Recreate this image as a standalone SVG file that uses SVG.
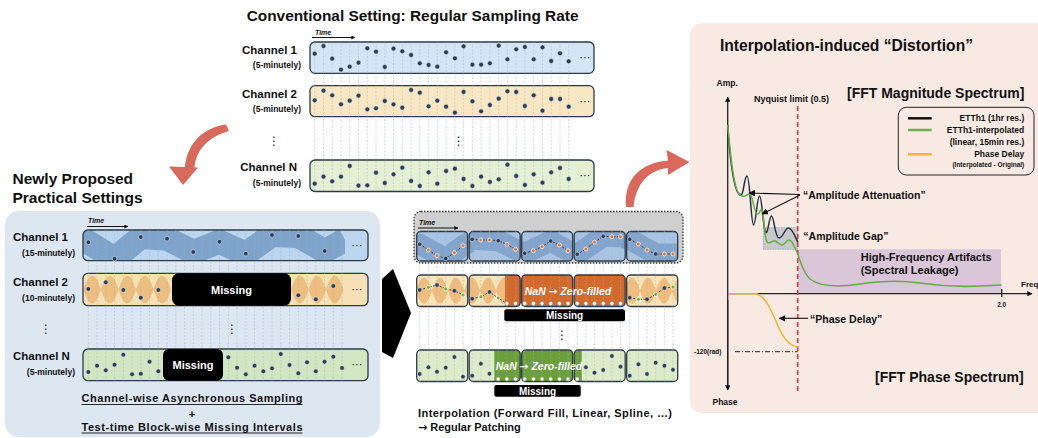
<svg xmlns="http://www.w3.org/2000/svg" width="1038" height="438" viewBox="0 0 1038 438">
<defs>
<style>
.t{font-family:"Liberation Sans",Arial,sans-serif;font-weight:bold;fill:#111}
.it{font-style:italic}
.arr{font-family:"DejaVu Sans",sans-serif}
.grid{fill:none;stroke:#9fb0c1;stroke-width:.6;stroke-dasharray:2 1.5;opacity:.75}
.box{stroke:#2d3a46;stroke-width:1.3}
.d{fill:#2c3e55;stroke:#e6edf5;stroke-width:.5}
.o{fill:#e07b39;stroke:#fff;stroke-width:.7}
.g{fill:#6db547;stroke:#fff;stroke-width:.7}
.nan{fill:#fff;stroke:#8a8a8a;stroke-width:.6}
.dash{fill:none;stroke:#222;stroke-width:.8;stroke-dasharray:2 1.5}
.sym{font-family:"DejaVu Sans",sans-serif;fill:#222}
.miss{fill:#000}
.mt{font-family:"Liberation Sans",Arial,sans-serif;font-weight:bold;fill:#fff;text-anchor:middle}
</style>
<marker id="ah" viewBox="0 0 10 10" refX="9" refY="5" markerWidth="6" markerHeight="6" orient="auto-start-reverse"><path d="M0,0 L10,5 L0,10 Z" fill="#111"/></marker>
<marker id="ahs" viewBox="0 0 10 10" refX="9" refY="5" markerWidth="4" markerHeight="4" orient="auto"><path d="M0,0 L10,5 L0,10 Z" fill="#111"/></marker>
<path id="lensL" d="M0,0 Q8.75,-28 17.5,0 Q8.75,28 0,0Z"/>
<path id="lensM" d="M0,0 Q8,-26 16,0 Q8,26 0,0Z"/>
<clipPath id="cpL1"><rect x="83" y="230" width="285" height="30.7" rx="5"/></clipPath>
<clipPath id="cpL2"><rect x="83" y="273.3" width="285" height="32.4" rx="5"/></clipPath>
<clipPath id="cpMB"><rect x="416.7" y="231.5" width="51" height="29.5" rx="4"/><rect x="469.2" y="231.5" width="51" height="29.5" rx="4"/><rect x="521.7" y="231.5" width="51" height="29.5" rx="4"/><rect x="574.2" y="231.5" width="51" height="29.5" rx="4"/><rect x="626.7" y="231.5" width="51" height="29.5" rx="4"/></clipPath>
<clipPath id="cpMY"><rect x="416.7" y="275" width="51" height="31.5" rx="4"/><rect x="469.2" y="275" width="51" height="31.5" rx="4"/><rect x="521.7" y="275" width="51" height="31.5" rx="4"/><rect x="574.2" y="275" width="51" height="31.5" rx="4"/><rect x="626.7" y="275" width="51" height="31.5" rx="4"/></clipPath>
<clipPath id="cpMG"><rect x="416.7" y="350" width="51" height="31.5" rx="4"/><rect x="469.2" y="350" width="51" height="31.5" rx="4"/><rect x="521.7" y="350" width="51" height="31.5" rx="4"/><rect x="574.2" y="350" width="51" height="31.5" rx="4"/><rect x="626.7" y="350" width="51" height="31.5" rx="4"/></clipPath>
</defs>
<rect width="1038" height="438" fill="#fff"/>

<!-- ===== Top: conventional setting ===== -->
<g id="top-setting">
<text class="t" x="246.7" y="20.5" font-size="15.4">Conventional Setting: Regular Sampling Rate</text>
<text class="t it" x="315" y="35" font-size="7">Time</text>
<line x1="312" y1="37.5" x2="355" y2="37.5" stroke="#111" stroke-width="1" marker-end="url(#ahs)"/>
</g>
<g id="top-ch1">
<text class="t" x="297" y="54" font-size="11.5" text-anchor="end">Channel 1</text>
<text class="t" x="301" y="68" font-size="8.5" text-anchor="end">(5-minutely)</text>
<rect class="box" x="310" y="42" width="284" height="31.3" rx="5" fill="#d3e5f7"/>
</g>
<g id="top-ch2">
<text class="t" x="297" y="98.3" font-size="11.5" text-anchor="end">Channel 2</text>
<text class="t" x="301" y="112.3" font-size="8.5" text-anchor="end">(5-minutely)</text>
<rect class="box" x="310" y="85.7" width="284" height="31" rx="5" fill="#f8e7c2"/>
</g>
<g id="top-chN">
<text class="t" x="297" y="170.7" font-size="11.5" text-anchor="end">Channel N</text>
<text class="t" x="301" y="186.3" font-size="8.5" text-anchor="end">(5-minutely)</text>
<rect class="box" x="310" y="160" width="284" height="31.5" rx="5" fill="#e3f0d3"/>
</g>
<path class="grid" d="M314.7,42V192M323.5,42V192M332.2,42V192M341,42V192M349.7,42V192M358.5,42V192M367.3,42V192M376,42V192M384.8,42V192M393.5,42V192M402.3,42V192M411.1,42V192M419.8,42V192M428.6,42V192M437.3,42V192M446.1,42V192M454.9,42V192M463.6,42V192M472.4,42V192M481.1,42V192M489.9,42V192M498.7,42V192M507.4,42V192M516.2,42V192M524.9,42V192M533.7,42V192M542.5,42V192M551.2,42V192M560,42V192M568.7,42V192"/>
<g id="top-dots">
<g class="d">
<circle cx="314.7" cy="53.7" r="2.4"/><circle cx="323.5" cy="46" r="2.4"/><circle cx="332.2" cy="58.7" r="2.4"/><circle cx="341" cy="69.7" r="2.4"/><circle cx="349.7" cy="66.7" r="2.4"/><circle cx="358.5" cy="62.7" r="2.4"/><circle cx="367.3" cy="48.3" r="2.4"/><circle cx="376" cy="51.7" r="2.4"/><circle cx="384.8" cy="67" r="2.4"/><circle cx="393.5" cy="48.7" r="2.4"/><circle cx="402.3" cy="51.3" r="2.4"/><circle cx="411.1" cy="55" r="2.4"/><circle cx="419.8" cy="63.3" r="2.4"/><circle cx="428.6" cy="65" r="2.4"/><circle cx="437.3" cy="66.7" r="2.4"/><circle cx="446.1" cy="52.3" r="2.4"/><circle cx="454.9" cy="58.3" r="2.4"/><circle cx="463.6" cy="46.3" r="2.4"/><circle cx="472.4" cy="64.7" r="2.4"/><circle cx="481.1" cy="64.7" r="2.4"/><circle cx="489.9" cy="63.3" r="2.4"/><circle cx="498.7" cy="45.7" r="2.4"/><circle cx="507.4" cy="59.3" r="2.4"/><circle cx="516.2" cy="49.3" r="2.4"/><circle cx="524.9" cy="47" r="2.4"/><circle cx="533.7" cy="59.3" r="2.4"/><circle cx="542.5" cy="47.3" r="2.4"/><circle cx="551.2" cy="61" r="2.4"/><circle cx="560" cy="53.3" r="2.4"/><circle cx="568.7" cy="61.3" r="2.4"/>
<circle cx="314.7" cy="100.3" r="2.4"/><circle cx="323.5" cy="90.7" r="2.4"/><circle cx="332.2" cy="95.3" r="2.4"/><circle cx="341" cy="104.3" r="2.4"/><circle cx="349.7" cy="100.7" r="2.4"/><circle cx="358.5" cy="95.7" r="2.4"/><circle cx="367.3" cy="109.3" r="2.4"/><circle cx="376" cy="108.3" r="2.4"/><circle cx="384.8" cy="101" r="2.4"/><circle cx="393.5" cy="104.3" r="2.4"/><circle cx="402.3" cy="107.7" r="2.4"/><circle cx="411.1" cy="90" r="2.4"/><circle cx="419.8" cy="92.7" r="2.4"/><circle cx="428.6" cy="106.3" r="2.4"/><circle cx="437.3" cy="100.7" r="2.4"/><circle cx="446.1" cy="106.7" r="2.4"/><circle cx="454.9" cy="112.7" r="2.4"/><circle cx="463.6" cy="92" r="2.4"/><circle cx="472.4" cy="101.3" r="2.4"/><circle cx="481.1" cy="111.3" r="2.4"/><circle cx="489.9" cy="105" r="2.4"/><circle cx="498.7" cy="98.7" r="2.4"/><circle cx="507.4" cy="91.3" r="2.4"/><circle cx="516.2" cy="92" r="2.4"/><circle cx="524.9" cy="106" r="2.4"/><circle cx="533.7" cy="95.3" r="2.4"/><circle cx="542.5" cy="110.7" r="2.4"/><circle cx="551.2" cy="99" r="2.4"/><circle cx="560" cy="99" r="2.4"/><circle cx="568.7" cy="106.7" r="2.4"/>
<circle cx="314.7" cy="183.7" r="2.4"/><circle cx="323.5" cy="176.7" r="2.4"/><circle cx="332.2" cy="181.3" r="2.4"/><circle cx="341" cy="176.7" r="2.4"/><circle cx="349.7" cy="166" r="2.4"/><circle cx="358.5" cy="185.7" r="2.4"/><circle cx="367.3" cy="185.3" r="2.4"/><circle cx="376" cy="172.7" r="2.4"/><circle cx="384.8" cy="183" r="2.4"/><circle cx="393.5" cy="174.3" r="2.4"/><circle cx="402.3" cy="167.7" r="2.4"/><circle cx="411.1" cy="181" r="2.4"/><circle cx="419.8" cy="186" r="2.4"/><circle cx="428.6" cy="172.3" r="2.4"/><circle cx="437.3" cy="183.7" r="2.4"/><circle cx="446.1" cy="171" r="2.4"/><circle cx="454.9" cy="168.7" r="2.4"/><circle cx="463.6" cy="179" r="2.4"/><circle cx="472.4" cy="186" r="2.4"/><circle cx="481.1" cy="176.7" r="2.4"/><circle cx="489.9" cy="182" r="2.4"/><circle cx="498.7" cy="179.3" r="2.4"/><circle cx="507.4" cy="164.7" r="2.4"/><circle cx="516.2" cy="176" r="2.4"/><circle cx="524.9" cy="185" r="2.4"/><circle cx="533.7" cy="174.3" r="2.4"/><circle cx="542.5" cy="182.7" r="2.4"/><circle cx="551.2" cy="172.3" r="2.4"/><circle cx="560" cy="168" r="2.4"/><circle cx="568.7" cy="179" r="2.4"/>
</g>
<text class="sym" x="585" y="61" font-size="11" text-anchor="middle">⋯</text>
<text class="sym" x="585" y="105" font-size="11" text-anchor="middle">⋯</text>
<text class="sym" x="585" y="179" font-size="11" text-anchor="middle">⋯</text>
<text class="sym" x="274" y="145" font-size="12" text-anchor="middle">⋮</text>
<text class="sym" x="458.7" y="145" font-size="12" text-anchor="middle">⋮</text>
</g>

<!-- ===== Curved salmon arrows ===== -->
<g id="arrows-salmon" fill="#d9695a">
<path d="M226,124.5 C205,127 187,142 185,167 L169,166.5 L183,185 L198,167.5 L194.5,167.5 C196,150 208,137 229,131 Z"/>
<path d="M626,207 C624,179 640,163 668,160.5 L666.5,150 L689.5,162 L668,175 L668,168 C648,170 636,184 633.5,207 Z"/>
</g>

<!-- ===== Left: newly proposed practical settings ===== -->
<g id="left-panel">
<text class="t" x="12.5" y="184" font-size="15.5">Newly Proposed</text>
<text class="t" x="12.5" y="203" font-size="15.5">Practical Settings</text>
<rect x="5" y="211" width="375" height="226" rx="14" fill="#dde7f2"/>
<text class="t it" x="88" y="222.5" font-size="7">Time</text>
<line x1="87" y1="226.5" x2="128" y2="226.5" stroke="#111" stroke-width="1" marker-end="url(#ahs)"/>
</g>
<g id="left-ch1">
<text class="t" x="13" y="241.3" font-size="11.5">Channel 1</text>
<text class="t" x="75" y="255.7" font-size="8.5" text-anchor="end">(15-minutely)</text>
<rect x="83" y="230" width="285" height="30.7" rx="5" fill="#bcd6f0"/>
<polyline clip-path="url(#cpL1)" points="80,242.3 88.3,242.3 114.6,258.7 140.8,237 167,238.7 193.3,252 219.5,241.7 245.8,253.7 272,235 298.3,236 324.6,251 345,240" fill="none" stroke="#6f97c3" stroke-opacity=".8" stroke-width="24" stroke-linejoin="miter" stroke-miterlimit="8"/>
<rect x="345" y="230" width="23" height="30.7" fill="#bcd6f0" clip-path="url(#cpL1)"/>
<rect class="box" x="83" y="230" width="285" height="30.7" rx="5" fill="none"/>
</g>
<g id="left-ch2">
<text class="t" x="13" y="285.7" font-size="11.5">Channel 2</text>
<text class="t" x="75" y="301.3" font-size="8.5" text-anchor="end">(10-minutely)</text>
<rect x="83" y="273.3" width="285" height="32.4" rx="5" fill="#f5e1b5"/>
<g fill="#eaa75f" fill-opacity=".6" clip-path="url(#cpL2)">
<use href="#lensL" x="83.5" y="289.5"/><use href="#lensL" x="101" y="289.5"/><use href="#lensL" x="118.5" y="289.5"/><use href="#lensL" x="136" y="289.5"/><use href="#lensL" x="153.5" y="289.5"/>
<use href="#lensL" x="291" y="289.5"/><use href="#lensL" x="308.5" y="289.5"/><use href="#lensL" x="326" y="289.5"/>
</g>
<rect class="box" x="83" y="273.3" width="285" height="32.4" rx="5" fill="none"/>
</g>
<g id="left-chN">
<text class="t" x="13" y="359.7" font-size="11.5">Channel N</text>
<text class="t" x="75" y="375.3" font-size="8.5" text-anchor="end">(5-minutely)</text>
<rect class="box" x="83" y="349" width="285" height="31.7" rx="5" fill="#d2e6c2"/>
</g>
<path class="grid" d="M88.3,230V381M97.05,230V381M105.8,230V381M114.55,230V381M123.3,230V381M132.05,230V381M140.8,230V381M149.55,230V381M158.3,230V381M167.05,230V381M175.8,230V381M184.55,230V381M193.3,230V381M202.05,230V381M210.8,230V381M219.55,230V381M228.3,230V381M237.05,230V381M245.8,230V381M254.55,230V381M263.3,230V381M272.05,230V381M280.8,230V381M289.55,230V381M298.3,230V381M307.05,230V381M315.8,230V381M324.55,230V381M333.3,230V381M342.05,230V381"/>
<g id="left-missing">
<rect class="miss" x="172" y="273.3" width="119" height="32.4" rx="7"/>
<text class="mt" x="231.5" y="293.5" font-size="11">Missing</text>
<rect class="miss" x="163" y="349" width="60" height="31.7" rx="6"/>
<text class="mt" x="193" y="369" font-size="11">Missing</text>
</g>
<g id="left-dots" class="d">
<circle cx="88.3" cy="242.3" r="2.3"/><circle cx="114.6" cy="258.7" r="2.3"/><circle cx="140.8" cy="237" r="2.3"/><circle cx="167" cy="238.7" r="2.3"/><circle cx="193.3" cy="252" r="2.3"/><circle cx="219.5" cy="241.7" r="2.3"/><circle cx="245.8" cy="253.7" r="2.3"/><circle cx="272" cy="235" r="2.3"/><circle cx="298.3" cy="236" r="2.3"/><circle cx="324.6" cy="251" r="2.3"/>
<circle cx="88.3" cy="289" r="2.3"/><circle cx="105.8" cy="282.3" r="2.3"/><circle cx="123.3" cy="290" r="2.3"/><circle cx="140.8" cy="297.7" r="2.3"/><circle cx="158.3" cy="290" r="2.3"/><circle cx="298.3" cy="295.3" r="2.3"/><circle cx="315.8" cy="299.3" r="2.3"/><circle cx="333.3" cy="286" r="2.3"/>
<circle cx="88.3" cy="372" r="2.3"/><circle cx="97.05" cy="365.7" r="2.3"/><circle cx="105.8" cy="370.3" r="2.3"/><circle cx="114.55" cy="364.7" r="2.3"/><circle cx="123.3" cy="354.7" r="2.3"/><circle cx="132.05" cy="374.3" r="2.3"/><circle cx="140.8" cy="373.7" r="2.3"/><circle cx="149.55" cy="361.7" r="2.3"/><circle cx="158.3" cy="371.3" r="2.3"/><circle cx="228.3" cy="357.3" r="2.3"/><circle cx="237.05" cy="367.7" r="2.3"/><circle cx="245.8" cy="374.3" r="2.3"/><circle cx="254.55" cy="365.7" r="2.3"/><circle cx="263.3" cy="371.3" r="2.3"/><circle cx="272.05" cy="368.3" r="2.3"/><circle cx="280.8" cy="354" r="2.3"/><circle cx="289.55" cy="365" r="2.3"/><circle cx="298.3" cy="373.3" r="2.3"/><circle cx="307.05" cy="362.3" r="2.3"/><circle cx="315.8" cy="371.3" r="2.3"/><circle cx="324.55" cy="361.7" r="2.3"/><circle cx="333.3" cy="356.7" r="2.3"/><circle cx="342.05" cy="368" r="2.3"/>
</g>
<g id="left-extras">
<text class="sym" x="357" y="249" font-size="11" text-anchor="middle">⋯</text>
<text class="sym" x="357" y="293" font-size="11" text-anchor="middle">⋯</text>
<text class="sym" x="357" y="368" font-size="11" text-anchor="middle">⋯</text>
<text class="sym" x="46" y="333" font-size="12" text-anchor="middle">⋮</text>
<text class="sym" x="232" y="333" font-size="12" text-anchor="middle">⋮</text>
<text class="t" x="192" y="402" font-size="11" text-anchor="middle" textLength="221">Channel-wise Asynchronous Sampling</text>
<line x1="81.5" y1="404.5" x2="302.5" y2="404.5" stroke="#111" stroke-width=".9"/>
<text class="t" x="192" y="418" font-size="11" text-anchor="middle">+</text>
<text class="t" x="192" y="430.5" font-size="11" text-anchor="middle" textLength="221">Test-time Block-wise Missing Intervals</text>
<line x1="81.5" y1="433" x2="302.5" y2="433" stroke="#111" stroke-width=".9"/>
</g>

<!-- ===== Big black arrow ===== -->
<g id="arrow-black">
<polygon points="382,279 393,269 411,313 393,358 382,352" fill="#000"/>
</g>

<!-- ===== Middle: interpolation & patching ===== -->
<g id="mid-blue">
<rect x="414" y="211.5" width="269" height="51.5" rx="7" fill="#cfcfcf" stroke="#333" stroke-width="1.3" stroke-dasharray="1.5 1.5"/>
<text class="t it" x="419" y="225" font-size="7">Time</text>
<line x1="418" y1="228" x2="458" y2="228" stroke="#111" stroke-width="1" marker-end="url(#ahs)"/>
<g fill="#a9c4e2"><rect x="416.7" y="231.5" width="51" height="29.5" rx="4"/><rect x="469.2" y="231.5" width="51" height="29.5" rx="4"/><rect x="521.7" y="231.5" width="51" height="29.5" rx="4"/><rect x="574.2" y="231.5" width="51" height="29.5" rx="4"/><rect x="626.7" y="231.5" width="51" height="29.5" rx="4"/></g>
<g clip-path="url(#cpMB)" fill="none" stroke="#7c9fc8" stroke-opacity=".85" stroke-width="21" stroke-linejoin="miter" stroke-miterlimit="8">
<polyline points="414,243 419.7,244.3 445.7,258.5 463,245.7 470,242"/>
<polyline points="466,238 472.2,239.3 498.2,240.7 515.5,249.3 522,252"/>
<polyline points="519,254 524.7,253.3 550.7,241 568,250.7 575,254"/>
<polyline points="571,255 577.2,254.3 603.2,236.3 620.5,236.7 627,238"/>
<polyline points="623,238 629.7,239.3 655.7,254 673,254 680,254"/>
</g>
<g fill="none" class="box"><rect x="416.7" y="231.5" width="51" height="29.5" rx="4"/><rect x="469.2" y="231.5" width="51" height="29.5" rx="4"/><rect x="521.7" y="231.5" width="51" height="29.5" rx="4"/><rect x="574.2" y="231.5" width="51" height="29.5" rx="4"/><rect x="626.7" y="231.5" width="51" height="29.5" rx="4"/></g>
</g>
<g id="mid-yellow">
<g fill="#f9e4b5"><rect x="416.7" y="275" width="51" height="31.5" rx="4"/><rect x="469.2" y="275" width="51" height="31.5" rx="4"/><rect x="521.7" y="275" width="51" height="31.5" rx="4"/><rect x="574.2" y="275" width="51" height="31.5" rx="4"/><rect x="626.7" y="275" width="51" height="31.5" rx="4"/></g>
<g clip-path="url(#cpMY)">
<g fill="#eeb06d" fill-opacity=".75"><use href="#lensM" x="416" y="290.7"/><use href="#lensM" x="432" y="290.7"/><use href="#lensM" x="448" y="290.7"/><use href="#lensM" x="464" y="290.7"/><use href="#lensM" x="480" y="290.7"/><use href="#lensM" x="496" y="290.7"/><use href="#lensM" x="624" y="290.7"/><use href="#lensM" x="640" y="290.7"/><use href="#lensM" x="656" y="290.7"/><use href="#lensM" x="672" y="290.7"/></g>
<rect x="505" y="274" width="122" height="34" fill="#d4692c"/>
</g>
<g fill="none" class="box"><rect x="416.7" y="275" width="51" height="31.5" rx="4"/><rect x="469.2" y="275" width="51" height="31.5" rx="4"/><rect x="521.7" y="275" width="51" height="31.5" rx="4"/><rect x="574.2" y="275" width="51" height="31.5" rx="4"/><rect x="626.7" y="275" width="51" height="31.5" rx="4"/></g>
</g>
<g id="mid-green">
<g fill="#dcecc9"><rect x="416.7" y="350" width="51" height="31.5" rx="4"/><rect x="469.2" y="350" width="51" height="31.5" rx="4"/><rect x="521.7" y="350" width="51" height="31.5" rx="4"/><rect x="574.2" y="350" width="51" height="31.5" rx="4"/><rect x="626.7" y="350" width="51" height="31.5" rx="4"/></g>
<g clip-path="url(#cpMG)"><rect x="494.3" y="349" width="87.4" height="34" fill="#6a9f3c"/></g>
<g fill="none" class="box"><rect x="416.7" y="350" width="51" height="31.5" rx="4"/><rect x="469.2" y="350" width="51" height="31.5" rx="4"/><rect x="521.7" y="350" width="51" height="31.5" rx="4"/><rect x="574.2" y="350" width="51" height="31.5" rx="4"/><rect x="626.7" y="350" width="51" height="31.5" rx="4"/></g>
</g>
<path class="grid" d="M419.7,231V382M428.4,231V382M437,231V382M445.7,231V382M454.4,231V382M463,231V382M472.2,231V382M480.9,231V382M489.5,231V382M498.2,231V382M506.9,231V382M515.5,231V382M524.7,231V382M533.4,231V382M542,231V382M550.7,231V382M559.4,231V382M568,231V382M577.2,231V382M585.9,231V382M594.5,231V382M603.2,231V382M611.9,231V382M620.5,231V382M629.7,231V382M638.4,231V382M647,231V382M655.7,231V382M664.4,231V382M673,231V382"/>
<g id="mid-labels">
<text class="mt it" x="568" y="294.5" font-size="10.5">NaN <tspan class="arr">→</tspan> Zero-filled</text>
<rect class="miss" x="504.3" y="309.3" width="120.7" height="12" rx="2"/>
<text class="mt" x="564.6" y="319.3" font-size="10">Missing</text>
<text class="mt it" x="539" y="369.5" font-size="10.5">NaN <tspan class="arr">→</tspan> Zero-filled</text>
<rect class="miss" x="494.3" y="385" width="86.4" height="11.7" rx="2"/>
<text class="mt" x="537.5" y="394.8" font-size="10">Missing</text>
</g>
<g id="mid-dots">
<g class="dash">
<polyline points="419.7,244.3 428.4,250 437,255.7 445.7,258.5 454.4,252.7 463,245.7"/>
<polyline points="472.2,239.3 480.9,240 489.5,240 498.2,240.7 506.9,244.3 515.5,249.3"/>
<polyline points="524.7,253.3 533.4,250.7 542,246.7 550.7,241 559.4,245 568,250.7"/>
<polyline points="577.2,254.3 585.9,249 594.5,242.3 603.2,236.3 611.9,236.7 620.5,236.7"/>
<polyline points="629.7,239.3 638.4,244 647,250 655.7,254 664.4,254 673,254"/>
<polyline points="419.7,290 428.4,287.3 437,285 445.7,289 454.4,290.7 463,295"/>
<polyline points="472.2,298.7 480.9,296.7 489.5,292 498.2,298 506.9,303.5"/>
<polyline points="629.7,297.7 638.4,299.3 647,299.3 655.7,294.3 664.4,288 673,287"/>
</g>
<g class="d">
<circle cx="419.7" cy="244.3" r="2.2"/><circle cx="445.7" cy="258.5" r="2.2"/><circle cx="472.2" cy="239.3" r="2.2"/><circle cx="498.2" cy="240.7" r="2.2"/><circle cx="524.7" cy="253.3" r="2.2"/><circle cx="550.7" cy="241" r="2.2"/><circle cx="577.2" cy="254.3" r="2.2"/><circle cx="603.2" cy="236.3" r="2.2"/><circle cx="629.7" cy="239.3" r="2.2"/><circle cx="655.7" cy="254" r="2.2"/>
<circle cx="419.7" cy="290" r="2.2"/><circle cx="437" cy="285" r="2.2"/><circle cx="454.4" cy="290.7" r="2.2"/><circle cx="472.2" cy="298.7" r="2.2"/><circle cx="489.5" cy="292" r="2.2"/><circle cx="629.7" cy="297.7" r="2.2"/><circle cx="647" cy="299.3" r="2.2"/><circle cx="664.4" cy="288" r="2.2"/>
<circle cx="419.7" cy="374" r="2.2"/><circle cx="428.4" cy="367.3" r="2.2"/><circle cx="437" cy="371.7" r="2.2"/><circle cx="445.7" cy="367.7" r="2.2"/><circle cx="454.4" cy="357" r="2.2"/><circle cx="463" cy="376.7" r="2.2"/><circle cx="472.2" cy="375.7" r="2.2"/><circle cx="480.9" cy="363.7" r="2.2"/><circle cx="489.5" cy="373.7" r="2.2"/><circle cx="585.9" cy="367.3" r="2.2"/><circle cx="594.5" cy="372.7" r="2.2"/><circle cx="603.2" cy="370" r="2.2"/><circle cx="611.9" cy="356" r="2.2"/><circle cx="620.5" cy="366.7" r="2.2"/><circle cx="629.7" cy="375.7" r="2.2"/><circle cx="638.4" cy="364.3" r="2.2"/><circle cx="647" cy="374" r="2.2"/><circle cx="655.7" cy="362.7" r="2.2"/><circle cx="664.4" cy="365.7" r="2.2"/><circle cx="673" cy="369.7" r="2.2"/>
</g>
<g class="o">
<circle cx="428.4" cy="250" r="2"/><circle cx="437" cy="255.7" r="2"/><circle cx="454.4" cy="252.7" r="2"/><circle cx="463" cy="245.7" r="2"/><circle cx="480.9" cy="240" r="2"/><circle cx="489.5" cy="240" r="2"/><circle cx="506.9" cy="244.3" r="2"/><circle cx="515.5" cy="249.3" r="2"/><circle cx="533.4" cy="250.7" r="2"/><circle cx="542" cy="246.7" r="2"/><circle cx="559.4" cy="245" r="2"/><circle cx="568" cy="250.7" r="2"/><circle cx="585.9" cy="249" r="2"/><circle cx="594.5" cy="242.3" r="2"/><circle cx="611.9" cy="236.7" r="2"/><circle cx="620.5" cy="236.7" r="2"/><circle cx="638.4" cy="244" r="2"/><circle cx="647" cy="250" r="2"/><circle cx="664.4" cy="254" r="2"/><circle cx="673" cy="254" r="2"/>
</g>
<g class="g">
<circle cx="428.4" cy="287.3" r="2"/><circle cx="445.7" cy="289" r="2"/><circle cx="463" cy="295" r="2"/><circle cx="480.9" cy="296.7" r="2"/><circle cx="498.2" cy="298" r="2"/><circle cx="638.4" cy="299.3" r="2"/><circle cx="655.7" cy="294.3" r="2"/><circle cx="673" cy="287" r="2"/>
</g>
<g class="nan">
<circle cx="506.9" cy="303.5" r="2"/><circle cx="515.5" cy="303.5" r="2"/><circle cx="524.7" cy="303.5" r="2"/><circle cx="533.4" cy="303.5" r="2"/><circle cx="542" cy="303.5" r="2"/><circle cx="550.7" cy="303.5" r="2"/><circle cx="559.4" cy="303.5" r="2"/><circle cx="568" cy="303.5" r="2"/><circle cx="577.2" cy="303.5" r="2"/><circle cx="585.9" cy="303.5" r="2"/><circle cx="594.5" cy="303.5" r="2"/><circle cx="603.2" cy="303.5" r="2"/><circle cx="611.9" cy="303.5" r="2"/><circle cx="620.5" cy="303.5" r="2"/>
<circle cx="498.2" cy="379" r="2"/><circle cx="506.9" cy="379" r="2"/><circle cx="515.5" cy="379" r="2"/><circle cx="524.7" cy="379" r="2"/><circle cx="533.4" cy="379" r="2"/><circle cx="542" cy="379" r="2"/><circle cx="550.7" cy="379" r="2"/><circle cx="559.4" cy="379" r="2"/><circle cx="568" cy="379" r="2"/><circle cx="577.2" cy="379" r="2"/>
</g>
</g>
<g id="mid-extras">
<text class="sym" x="562" y="339" font-size="12" text-anchor="middle">⋮</text>
<text class="t" x="418" y="417" font-size="11" textLength="254">Interpolation (Forward Fill, Linear, Spline, …)</text>
<text class="t" x="418" y="431" font-size="11"><tspan class="arr">→</tspan> Regular Patching</text>
</g>

<!-- ===== Right: distortion panel ===== -->
<g id="right-panel">
<rect x="690" y="23" width="360" height="390" rx="12" fill="#f8eae2"/>
<text class="t" x="720" y="51" font-size="15.6">Interpolation-induced “Distortion”</text>
<text class="t" x="847" y="97.5" font-size="14">[FFT Magnitude Spectrum]</text>
<text class="t" x="875" y="382" font-size="14">[FFT Phase Spectrum]</text>
</g>
<g id="right-chart">
<rect x="797.7" y="249.3" width="203.3" height="44.4" fill="#d9c6d8"/>
<rect x="763.3" y="227.7" width="34.4" height="21.6" fill="#c9c9cb" stroke="#8da0b5" stroke-width=".7" stroke-dasharray="1.5 1"/>
<text class="t" x="860.7" y="261" font-size="11">High-Frequency Artifacts</text>
<text class="t" x="860.7" y="274" font-size="11">(Spectral Leakage)</text>
<line x1="727.7" y1="389" x2="727.7" y2="97" stroke="#222" stroke-width="1.3" marker-end="url(#ahs)"/>
<line x1="727.7" y1="300" x2="727.7" y2="390" stroke="#222" stroke-width="1.3" marker-end="url(#ahs)"/>
<line x1="727.7" y1="293.7" x2="1032" y2="293.7" stroke="#222" stroke-width="1.3" marker-end="url(#ahs)"/>
<line x1="1001.7" y1="289" x2="1001.7" y2="297" stroke="#222" stroke-width="1.3"/>
<text class="t" x="1001.7" y="306.5" font-size="6.5" text-anchor="middle">2.0</text>
<text class="t" x="1021" y="287" font-size="8">Freq</text>
<text class="t" x="716.5" y="86" font-size="8.5">Amp.</text>
<text class="t" x="712.5" y="405" font-size="8.5">Phase</text>
<text class="t" x="694" y="354" font-size="6.5">-120(rad)</text>
<line x1="735" y1="351.7" x2="797.7" y2="351.7" stroke="#222" stroke-width="1" stroke-dasharray="5 2 1 2"/>
<line x1="797.7" y1="106" x2="797.7" y2="393" stroke="#e8343a" stroke-width="1.6" stroke-dasharray="5 3"/>
<text class="t" x="791.5" y="102" font-size="9" text-anchor="middle">Nyquist limit (0.5)</text>
<path d="M727.7,125 C730,160 734,192 740,195 C744,197 744,176 747,176 C750,176 751,225 753.5,225 C756,225 757,196 759.5,196 C762,196 763,228 765.5,232 C768,236 769,216 771.5,216 C774,216 775,238 779,238 C783,238 785,228 788.5,228 C792,228 795,236 797.7,242" fill="none" stroke="#1f3347" stroke-width="1.5"/>
<path d="M727.7,125 C731,160 734,190 740,195 C745,199 747,193 750,194 C753,196 754,213 757,214 C760,215 760,208 762,210 C764,213 764,238 767,242 C770,245 772,240 775,241 C778,242 779,245 782,245 C785,245 786,240 789,240 C792,240 794,246 796,250 C800,258 802,272 810,279 C820,287 840,287 860,284 C880,281 900,280 920,283 C940,286 960,287 980,286 L1001.7,285" fill="none" stroke="#62ad45" stroke-width="1.5"/>
<path d="M728.3,293.7 L756.7,293.7 C766,297 772,312 778,326 C784,340 790,346 797.7,346.7" fill="none" stroke="#efb72a" stroke-width="1.5"/>
<line x1="800" y1="194.5" x2="749" y2="193" stroke="#111" stroke-width="1.1" marker-end="url(#ah)"/>
<line x1="800" y1="195" x2="762" y2="214" stroke="#111" stroke-width="1.1" marker-end="url(#ah)"/>
<text class="t" x="803" y="198.5" font-size="10.5">“Amplitude Attenuation”</text>
<text class="t" x="803.3" y="240" font-size="10.5">“Amplitude Gap”</text>
<line x1="808" y1="318.3" x2="779.5" y2="318.3" stroke="#111" stroke-width="1.1" marker-end="url(#ah)"/>
<text class="t" x="810" y="322.5" font-size="10.5">“Phase Delay”</text>
</g>
<g id="legend">
<rect x="898.3" y="107.3" width="135.7" height="67.7" rx="8" fill="none" stroke="#222" stroke-width="1"/>
<line x1="908" y1="118.3" x2="931.7" y2="118.3" stroke="#111" stroke-width="2.5"/>
<line x1="908" y1="130" x2="931.7" y2="130" stroke="#6ab04c" stroke-width="2.5"/>
<line x1="908" y1="154.3" x2="931.7" y2="154.3" stroke="#f0b929" stroke-width="2.5"/>
<text class="t" x="1024.3" y="121" font-size="8.5" text-anchor="end">ETTh1 (1hr res.)</text>
<text class="t" x="1024.3" y="133" font-size="8.5" text-anchor="end">ETTh1-interpolated</text>
<text class="t" x="1024.3" y="145" font-size="8.5" text-anchor="end">(linear, 15min res.)</text>
<text class="t" x="1024.3" y="156.5" font-size="8.5" text-anchor="end">Phase Delay</text>
<text class="t" x="1024.3" y="166.5" font-size="6.5" text-anchor="end">(Interpolated - Original)</text>
</g>
</svg>
